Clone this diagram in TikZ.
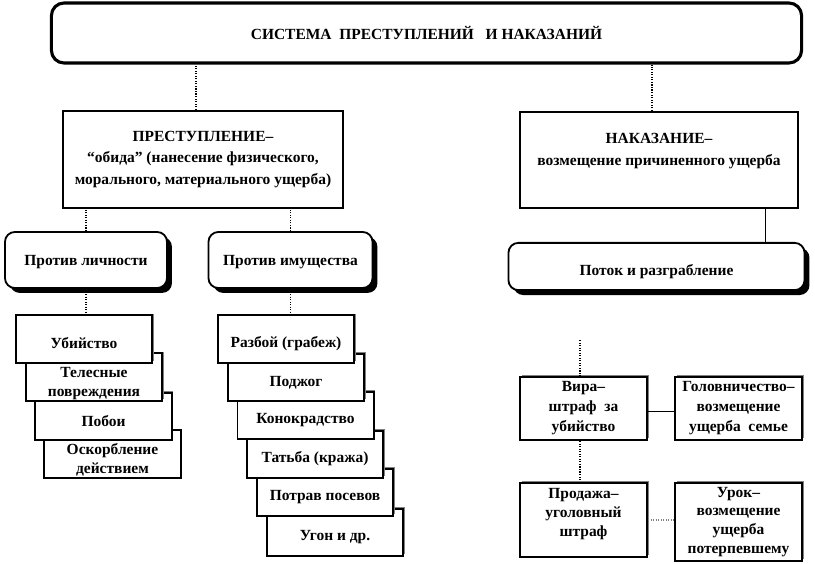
\documentclass[tikz,border=0pt]{standalone}
\usepackage{fontspec}
\setmainfont{Liberation Serif}
\usetikzlibrary{positioning,shadows}

\begin{document}
\begin{tikzpicture}[
  x=0.025cm, y=-0.025cm,
  font=\bfseries\fontsize{11}{13.5}\selectfont,
  headbox/.style={draw, line width=2.2pt, rounded corners=9pt, minimum width=18.75cm, minimum height=1.5cm},
  mainbox/.style={draw, line width=1.6pt, align=center, font=\bfseries\fontsize{11}{15.6}\selectfont},
  groupbox/.style={draw, line width=1.3pt, rounded corners=7pt, fill=white, minimum height=1.4cm,
    drop shadow={shadow xshift=3.5pt, shadow yshift=-3.5pt, fill=black, opacity=1}},
  itembox/.style={draw, line width=1.4pt, fill=white, align=center, inner sep=1pt,
    minimum width=3.4cm, minimum height=1.18cm,
    drop shadow={shadow xshift=1.2pt, shadow yshift=1.2pt, fill=gray, opacity=1}},
  paybox/.style={itembox, minimum width=3.18cm, minimum height=1.58cm, inner ysep=0pt,
    font=\bfseries\fontsize{11}{14.2}\selectfont},
  link/.style={densely dotted, line width=0.8pt},
  tie/.style={line width=0.7pt}
]
\useasboundingbox (0,0) rectangle (815,564);

\node[headbox] (title) at (426.5,33) {СИСТЕМА\ \ ПРЕСТУПЛЕНИЙ\ \ \ И НАКАЗАНИЙ};

\node[mainbox, minimum width=7cm, minimum height=2.43cm] (crime) at (203,159.5) {ПРЕСТУПЛЕНИЕ–\\“обида”\ (нанесение физического,\\морального, материального ущерба)};
\node[mainbox, minimum width=6.95cm, minimum height=2.4cm] (punish) at (659,160) {НАКАЗАНИЕ–\\возмещение причиненного ущерба\\\mbox{}};

\node[groupbox, minimum width=4.05cm] (person) at (86,260) {\rule{0pt}{10pt}Против личности};
\node[groupbox, minimum width=4.1cm] (property) at (290.5,260) {\rule{0pt}{10pt}Против имущества};
\node[groupbox, minimum width=7.4cm, minimum height=1.18cm] (plunder) at (656.5,266.5) {\rule{0pt}{15pt}Поток и разграбление};

\node[itembox] (insult) at (112.5,454) {\rule{0pt}{15.5pt}Оскорбление\\действием};
\node[itembox] (beating) at (103.5,416.5) {\rule{0pt}{14pt}Побои};
\node[itembox] (injury) at (94,377) {\rule{0pt}{16pt}Телесные\\повреждения};
\node[itembox] (murder) at (84,339) {\rule{0pt}{14pt}Убийство};

\node[itembox] (other) at (335,532.5) {\rule{0pt}{14pt}Угон и др.};
\node[itembox] (crops) at (325,492.5) {\rule{0pt}{14pt}Потрав посевов};
\node[itembox] (theft) at (315,454.5) {\rule{0pt}{14pt}Татьба (кража)};
\node[itembox] (horses) at (305.5,415.5) {\rule{0pt}{14pt}Конокрадство};
\node[itembox] (arson) at (296,377.5) {\rule{0pt}{14pt}Поджог};
\node[itembox] (robbery) at (286,339) {\rule{0pt}{14pt}Разбой (грабеж)};

\node[paybox] (vira) at (583.5,408.5) {Вира–\\штраф\ \ за\\убийство};
\node[paybox] (golov) at (738.5,408.5) {Головничество–\\возмещение\\ущерба\ \ семье};
\node[paybox, minimum height=1.85cm, font=\bfseries\fontsize{11}{13.5}\selectfont] (sale) at (583.5,520) {Продажа–\\уголовный\\штраф\rule[-11pt]{0pt}{1pt}};
\node[paybox, minimum height=1.95cm, font=\bfseries\fontsize{11}{13.4}\selectfont] (lesson) at (738.5,522) {Урок–\\возмещение\\ущерба\\потерпевшему};

\coordinate (vtop) at (580,340);

\draw[link] ([xshift=-0.175cm]crime.north) -- ([xshift=-0.175cm]crime.north |- title.south);
\draw[link] ([xshift=-0.175cm]punish.north) -- ([xshift=-0.175cm]punish.north |- title.south);
\draw[tie] ([xshift=2.65cm]punish.south) -- ([xshift=2.65cm]punish.south |- plunder.north);
\draw[link] (person.north) -- (person.north |- crime.south);
\draw[link] (property.north) -- (property.north |- crime.south);
\draw[link] (person.south) -- (person.south |- murder.north);
\draw[link] (property.south) -- (property.south |- robbery.north);
\draw[link] (vtop) -- (vtop |- vira.north);
\draw[link] (vtop |- vira.south) -- (vtop |- sale.north);
\draw[tie] ([yshift=-0.075cm]vira.east) -- ([yshift=-0.075cm]golov.west);
\draw[link, gray] (sale.east) -- (lesson.west |- sale.east);

\end{tikzpicture}
\end{document}
